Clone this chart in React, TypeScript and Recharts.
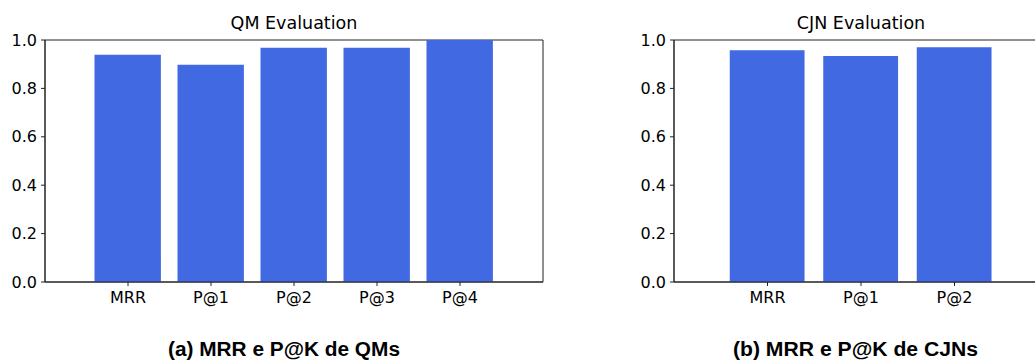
import React from 'react';
import { BarChart, Bar, XAxis, YAxis, ReferenceArea } from 'recharts';

const qmCategories = ['MRR', 'P@1', 'P@2', 'P@3', 'P@4'];
const qmValues = [0.939, 0.898, 0.968, 0.968, 1.0];

const cjnCategories = ['MRR', 'P@1', 'P@2'];
const cjnValues = [0.958, 0.934, 0.97];

const yTicks = [0, 0.2, 0.4, 0.6, 0.8, 1.0];

const BAR_COLOR = '#4169E1';
const AXIS_COLOR = '#222222';
const TICK_FONT = { fontFamily: 'DejaVu Sans', fontSize: 16, fill: '#000' };

type PanelProps = {
  categories: string[];
  values: number[];
  xMax: number;
  plotWidth: number;
  barSize: number;
  left: number;
};

const Y_AXIS_W = 45;
const RIGHT_M = 20;

function Panel({ categories, values, xMax, plotWidth, barSize, left }: PanelProps) {
  const data = categories.map((c, i) => ({ x: i, label: c, value: values[i] }));
  const ticks = categories.map((_, i) => i);
  return (
    <div style={{ position: 'absolute', left, top: 0 }}>
      <BarChart
        width={Y_AXIS_W + plotWidth + RIGHT_M}
        height={320}
        data={data}
        margin={{ top: 40, right: RIGHT_M, bottom: 0, left: 0 }}
      >
        <ReferenceArea
          x1={-1}
          x2={xMax}
          y1={0}
          y2={1}
          fill="none"
          stroke={AXIS_COLOR}
          strokeWidth={1}
          ifOverflow="visible"
        />
        <XAxis
          dataKey="x"
          type="number"
          domain={[-1, xMax]}
          ticks={ticks}
          interval={0}
          tickFormatter={(v: number) => categories[v] ?? ''}
          tick={TICK_FONT}
          tickSize={4}
          tickMargin={6}
          height={38}
          stroke={AXIS_COLOR}
          axisLine={{ stroke: AXIS_COLOR }}
          tickLine={{ stroke: AXIS_COLOR }}
          allowDataOverflow
        />
        <YAxis
          type="number"
          domain={[0, 1]}
          ticks={yTicks}
          interval={0}
          tickFormatter={(v: number) => v.toFixed(1)}
          tick={TICK_FONT}
          tickSize={4}
          tickMargin={4}
          width={Y_AXIS_W}
          axisLine={{ stroke: AXIS_COLOR }}
          tickLine={{ stroke: AXIS_COLOR }}
          allowDataOverflow
        />
        <Bar dataKey="value" fill={BAR_COLOR} barSize={barSize} isAnimationActive={false} />
      </BarChart>
    </div>
  );
}

export default function App() {
  return (
    <div
      style={{
        position: 'absolute',
        left: 0,
        top: 0,
        width: 1035,
        height: 360,
        overflow: 'hidden',
        background: '#fff',
      }}
    >
      <Panel categories={qmCategories} values={qmValues} xMax={5} plotWidth={498} barSize={66.4} left={0} />
      <Panel categories={cjnCategories} values={cjnValues} xMax={3} plotWidth={374} barSize={74.8} left={629} />
      <svg
        width={1035}
        height={360}
        style={{ position: 'absolute', left: 0, top: 0, pointerEvents: 'none' }}
      >
        <text x={294} y={29.3} textAnchor="middle" fontFamily="DejaVu Sans" fontSize={17.5} fill="#000">
          QM Evaluation
        </text>
        <text x={861} y={29.3} textAnchor="middle" fontFamily="DejaVu Sans" fontSize={17.5} fill="#000">
          CJN Evaluation
        </text>
        <text
          x={168}
          y={356}
          fontFamily="Liberation Sans, Arial, sans-serif"
          fontWeight="bold"
          fontSize={20}
          textLength={232}
          lengthAdjust="spacingAndGlyphs"
          fill="#000"
        >
          (a) MRR e P@K de QMs
        </text>
        <text
          x={733}
          y={356}
          fontFamily="Liberation Sans, Arial, sans-serif"
          fontWeight="bold"
          fontSize={20}
          textLength={245}
          lengthAdjust="spacingAndGlyphs"
          fill="#000"
        >
          (b) MRR e P@K de CJNs
        </text>
      </svg>
    </div>
  );
}
